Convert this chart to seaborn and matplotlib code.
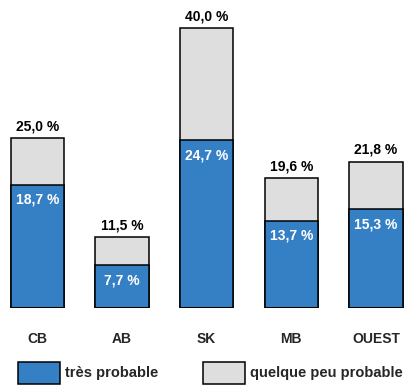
import matplotlib
matplotlib.use("Agg")
import matplotlib.pyplot as plt
import seaborn as sns
import pandas as pd
from matplotlib.patches import Rectangle

# Data
regions = ["CB", "AB", "SK", "MB", "OUEST"]
tres_probable = [18.7, 7.7, 24.7, 13.7, 15.3]
total = [25.0, 11.5, 40.0, 19.6, 21.8]

blue = "#3580c4"
grey = "#dedede"
bar_w = 0.63

sns.set_theme(style="white")
plt.rcParams['font.family'] = ['Liberation Sans', 'DejaVu Sans']

df = pd.DataFrame({"region": regions, "tres": tres_probable, "total": total})

fig = plt.figure(figsize=(4.04, 3.87), dpi=100)
ax = fig.add_axes([0, 79 / 387, 1, 308 / 387])

# grey = total, blue drawn over it
sns.barplot(data=df, x="region", y="total", color=grey, edgecolor="black",
            linewidth=1.1, width=bar_w, saturation=1, ax=ax)
sns.barplot(data=df, x="region", y="tres", color=blue, edgecolor="black",
            linewidth=1.1, width=bar_w, saturation=1, ax=ax)

# the value axis is cut a little above zero, as in the original
y_low = 1.9
ax.set_xlim(-0.443, 4.332)
ax.set_ylim(y_low, 43.8)
ax.axis("off")
for i in range(len(regions)):
    ax.hlines(y_low, i - bar_w / 2, i + bar_w / 2, color="black", linewidth=2.2)

def fmt(v):
    return f"{v:.1f} %".replace(".", ",")

for i in range(len(regions)):
    ax.annotate(fmt(total[i]), (i, total[i]), xytext=(0, 3.5), textcoords="offset points",
                ha="center", va="bottom", fontsize=10, fontweight="bold", color="black")
    ax.annotate(fmt(tres_probable[i]), (i, tres_probable[i]), xytext=(0, -5.5),
                textcoords="offset points", ha="center", va="top",
                fontsize=10, fontweight="bold", color="white")
    fig.text((37.5 + i * 84.6) / 404, 1 - 339 / 387, regions[i], ha="center",
             va="center", fontsize=10, fontweight="bold")

# legend
fig.patches.append(Rectangle((18 / 404, 1 - 384 / 387), 42 / 404, 22 / 387,
                             transform=fig.transFigure, facecolor=blue,
                             edgecolor="black", linewidth=1.1))
fig.text(65 / 404, 1 - 373 / 387, "très probable", ha="left", va="center",
         fontsize=10.5, fontweight="bold")
fig.patches.append(Rectangle((203 / 404, 1 - 384 / 387), 42 / 404, 22 / 387,
                             transform=fig.transFigure, facecolor=grey,
                             edgecolor="black", linewidth=1.1))
fig.text(250 / 404, 1 - 373 / 387, "quelque peu probable", ha="left", va="center",
         fontsize=10.5, fontweight="bold")

fig.savefig("out.png", dpi=100, facecolor="white")
